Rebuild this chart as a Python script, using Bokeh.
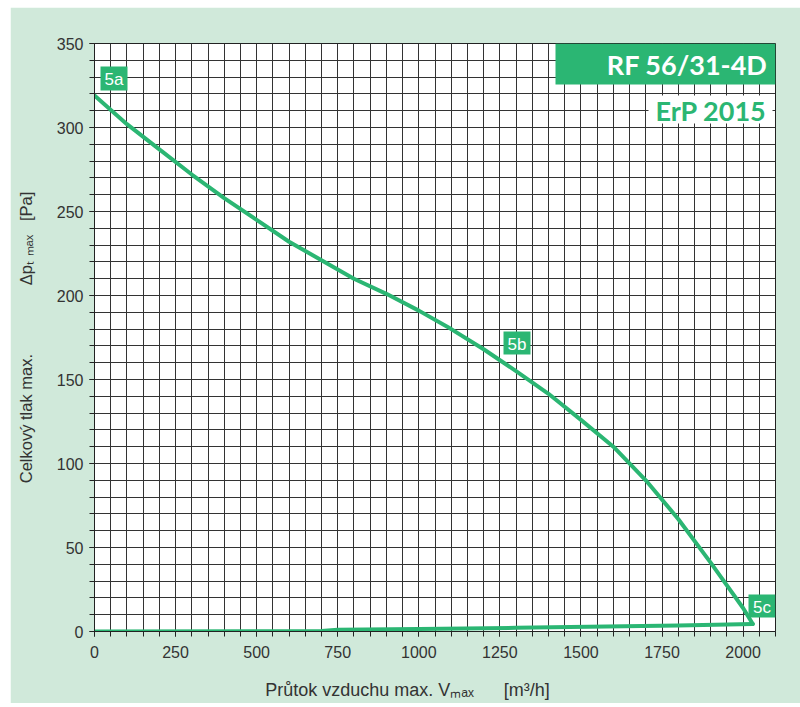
import numpy as np
from bokeh.plotting import figure
from bokeh.models import FixedTicker, Label, BoxAnnotation, Range1d
from bokeh.embed import file_html
from bokeh.resources import INLINE

# ---- data ----
flow_up = [0, 100, 200, 300, 400, 500, 600, 700, 800, 900, 1000, 1100, 1200,
           1300, 1400, 1500, 1600, 1700, 1800, 1900, 2000, 2030]
dp_up = [319, 302, 287, 272, 258, 245, 232, 221, 210, 201, 191, 180, 168,
         155, 141.5, 126, 110, 90, 67, 41, 14, 4.5]
flow_low = [0, 700, 750, 1000, 1300, 1800, 2030]
dp_low = [0, 0.3, 1, 1.5, 2.2, 3.5, 4.5]

x_major = [0, 250, 500, 750, 1000, 1250, 1500, 1750, 2000]
x_minor = list(range(0, 2101, 50))
y_major = [0, 50, 100, 150, 200, 250, 300, 350]
y_minor = list(range(0, 351, 10))

point_names = ["5a", "5b", "5c"]
title_main = "RF 56/31-4D"
title_sub = "ErP 2015"
NB = "\u00a0"
x_title = "Průtok vzduchu max. Vₘₐₓ" + NB * 6 + "[m³/h]" + NB * 11
y_title = "Celkový tlak max." + NB * 15 + "Δpₜ ₘₐₓ" + NB * 3 + "[Pa]"

GREEN = "#2bb673"
BG = "#d0e9da"
FONT = "Liberation Sans"

p = figure(width=790, height=696, title=None, margin=(7, 0, 0, 10),
           x_range=Range1d(0, 2100), y_range=Range1d(0, 350),
           output_backend="svg", toolbar_location=None,
           min_border_left=84, min_border_right=25,
           min_border_top=36, min_border_bottom=72)

p.border_fill_color = BG
p.background_fill_color = "white"
p.outline_line_color = "#222222"
p.outline_line_width = 1

p.xaxis.ticker = FixedTicker(ticks=x_major, minor_ticks=x_minor)
p.yaxis.ticker = FixedTicker(ticks=y_major, minor_ticks=y_minor)

for ax in (p.xaxis, p.yaxis):
    ax.axis_line_color = "#222222"
    ax.major_tick_line_color = "#222222"
    ax.minor_tick_line_color = "#222222"
    ax.major_tick_in = 0
    ax.major_tick_out = 5
    ax.minor_tick_in = 0
    ax.minor_tick_out = 5
    ax.major_label_text_font = FONT
    ax.major_label_text_font_size = "16px"
    ax.major_label_text_color = "#333333"
    ax.axis_label_text_font = FONT
    ax.axis_label_text_font_style = "normal"
    ax.axis_label_text_color = "#333333"
p.xaxis.axis_label_text_font_size = "18px"
p.yaxis.axis_label_text_font_size = "16.5px"
p.xaxis.major_label_standoff = 9
p.yaxis.major_label_standoff = 6
p.xaxis.axis_label = x_title
p.yaxis.axis_label = y_title
p.xaxis.axis_label_standoff = 19
p.yaxis.axis_label_standoff = 19

for g in (p.xgrid, p.ygrid):
    g.grid_line_color = "#333333"
    g.grid_line_width = 1
    g.minor_grid_line_color = "#333333"
    g.minor_grid_line_width = 1

# curves
p.line(flow_up, dp_up, line_color=GREEN, line_width=4, line_join="round", line_cap="round")
p.line(flow_low, dp_low, line_color=GREEN, line_width=4, line_join="round", line_cap="round")

# point label boxes (screen units relative to frame)
box_specs = [(6, 33, 565, 541), (409, 436, 300, 277), (654, 681, 37, 14)]
for name, (l, r, t, b) in zip(point_names, box_specs):
    p.add_layout(BoxAnnotation(left=l, right=r, top=t, bottom=b,
                               left_units="screen", right_units="screen",
                               top_units="screen", bottom_units="screen",
                               fill_color=GREEN, fill_alpha=1, line_alpha=0,
                               level="overlay"))
    p.add_layout(Label(x=(l + r) / 2, y=(t + b) / 2 - 1, x_units="screen", y_units="screen",
                       text=name, text_align="center", text_baseline="middle",
                       text_color="white", text_font=FONT, text_font_size="17px",
                       level="overlay"))

# title boxes
p.add_layout(BoxAnnotation(left=461, right=681, top=588, bottom=547,
                           left_units="screen", right_units="screen",
                           top_units="screen", bottom_units="screen",
                           fill_color=GREEN, fill_alpha=1, line_alpha=0, level="overlay"))
p.add_layout(Label(x=673, y=567, x_units="screen", y_units="screen", text=title_main,
                   text_align="right", text_baseline="alphabetic", text_color="white",
                   text_font="Lato", text_font_style="bold", text_font_size="27px",
                   level="overlay"))
p.add_layout(BoxAnnotation(left=554, right=678, top=536, bottom=508,
                           left_units="screen", right_units="screen",
                           top_units="screen", bottom_units="screen",
                           fill_color="white", fill_alpha=1, line_alpha=0, level="overlay"))
p.add_layout(Label(x=672, y=521, x_units="screen", y_units="screen", text=title_sub,
                   text_align="right", text_baseline="alphabetic", text_color=GREEN,
                   text_font="Lato", text_font_style="bold", text_font_size="27px",
                   level="overlay"))

open("out.html", "w").write(file_html(p, INLINE))
